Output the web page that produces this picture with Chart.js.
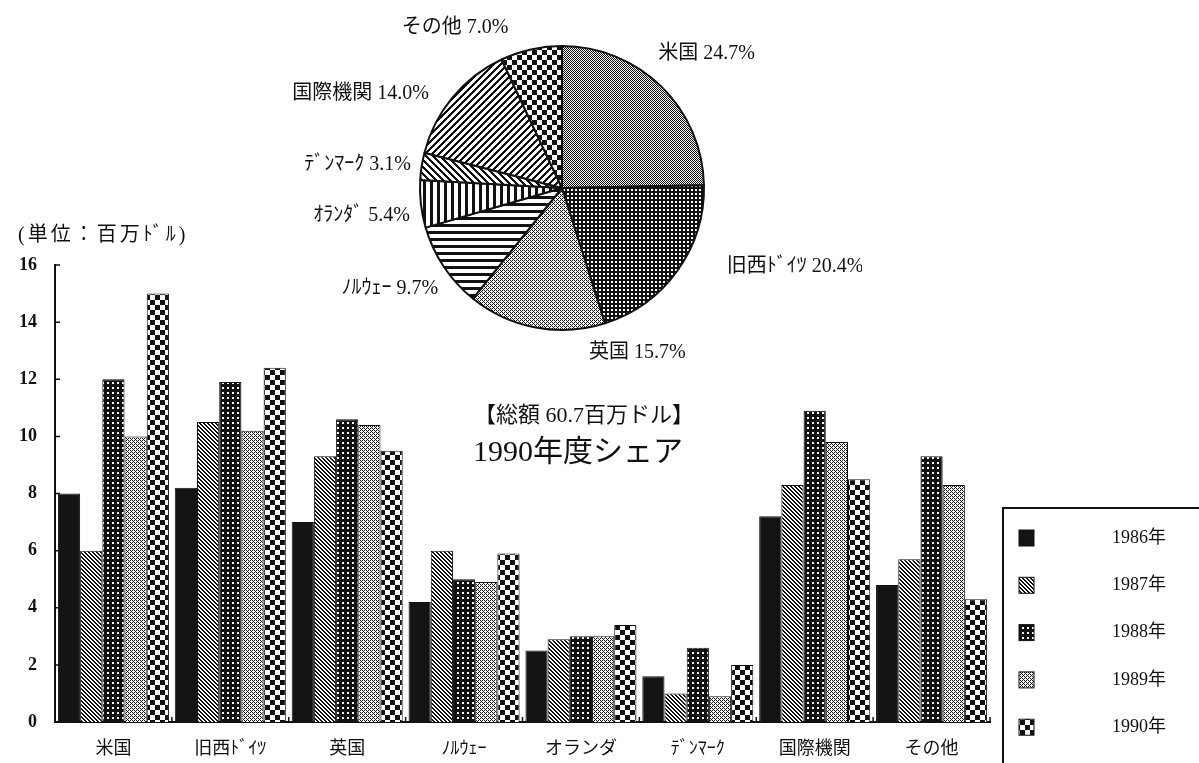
<!DOCTYPE html>
<html>
<head>
<meta charset="utf-8">
<script src="https://cdn.jsdelivr.net/npm/chart.js@4.4.1/dist/chart.umd.min.js"></script>
<style>
  html, body { margin: 0; padding: 0; background: #fff; }
  #wrap { position: relative; width: 1199px; height: 763px; overflow: hidden; }
  #barChart { position: absolute; left: 0; top: 0; }
  #pieChart { position: absolute; left: 262px; top: 0; }
  .note { position: absolute; font-family: 'Liberation Serif', 'Noto Sans CJK JP', serif; color: #111; white-space: nowrap; }
</style>
</head>
<body>
<div id="wrap">
  <canvas id="barChart" width="1199" height="763"></canvas>
  <canvas id="pieChart" width="600" height="380"></canvas>
  <div class="note" style="left:18px; top:218px; font-size:20px; letter-spacing:3px;">(単位：百万ﾄﾞﾙ)</div>
  <div class="note" style="left:474px; top:396px; font-size:22px;">【総額 60.7百万ドル】</div>
  <div class="note" style="left:473px; top:426px; font-size:30px;">1990年度シェア</div>
</div>
<script>
// 棒グラフのデータ (単位: 百万ドル)
const categories = ['米国', '旧西ﾄﾞｲﾂ', '英国', 'ﾉﾙｳｪｰ', 'オランダ', 'ﾃﾞﾝﾏｰｸ', '国際機関', 'その他'];
const years = ['1986年', '1987年', '1988年', '1989年', '1990年'];
const values1986 = [8.0, 8.2, 7.0, 4.2, 2.5, 1.6, 7.2, 4.8];
const values1987 = [6.0, 10.5, 9.3, 6.0, 2.9, 1.0, 8.3, 5.7];
const values1988 = [12.0, 11.9, 10.6, 5.0, 3.0, 2.6, 10.9, 9.3];
const values1989 = [10.0, 10.2, 10.4, 4.9, 3.0, 0.9, 9.8, 8.3];
const values1990 = [15.0, 12.4, 9.5, 5.9, 3.4, 2.0, 8.5, 4.3];

// 円グラフ (1990年度シェア, %)
const pieLabels = ['米国', '旧西ﾄﾞｲﾂ', '英国', 'ﾉﾙｳｪｰ', 'ｵﾗﾝﾀﾞ', 'ﾃﾞﾝﾏｰｸ', '国際機関', 'その他'];
const pieShares = [24.7, 20.4, 15.7, 9.7, 5.4, 3.1, 14.0, 7.0];

const FONT = "'Liberation Serif', 'Noto Sans CJK JP', serif";

// --- pattern helpers ---
function makePattern(size, fn) {
    const c = document.createElement('canvas');
    c.width = size; c.height = size;
    const g = c.getContext('2d');
    g.fillStyle = '#fff';
    g.fillRect(0, 0, size, size);
    g.fillStyle = '#111';
    for (let x = 0; x < size; x++) {
        for (let y = 0; y < size; y++) {
            if (fn(x, y)) g.fillRect(x, y, 1, 1);
        }
    }
    return g.createPattern(c, 'repeat');
}

// light stipple, roughly 40% ink
const stipple = (x, y) => (y % 2 === 0 && x % 2 === 0) || (y % 4 === 1 && x === 1) || (y % 4 === 3 && x === 3);

const barPatterns = [
    '#141414',
    makePattern(4, (x, y) => ((x - y + 8) % 4) < 2),               // dense hatch
    makePattern(5, (x, y) => !(x >= 2 && x < 4 && y >= 2 && y < 4)),  // black w/ white dots
    makePattern(4, stipple),                                         // light stipple
    makePattern(10, (x, y) => ((x < 5) === (y < 5)))               // checkerboard
];

const piePatterns = [
    makePattern(2, (x, y) => (x + y) % 2 === 0),                    // 米国: fine checker
    makePattern(4, (x, y) => !(x >= 1 && x < 3 && y >= 1 && y < 3)), // 旧西ドイツ: dark dots
    makePattern(4, stipple),                                         // 英国: light
    makePattern(7, (x, y) => y < 3),                                 // ノルウェー: horizontal
    makePattern(7, (x, y) => x < 3),                                 // オランダ: vertical
    makePattern(7, (x, y) => ((x - y + 14) % 7) < 3),               // デンマーク: \\
    makePattern(7, (x, y) => ((x + y) % 7) < 3),                    // 国際機関: //
    makePattern(10, (x, y) => ((x < 5) === (y < 5)))                // その他: checker
];

// small inward ticks on both axes
const axisTicks = {
    id: 'axisTicks',
    afterDraw(chart) {
        const { ctx, chartArea: a, scales } = chart;
        ctx.save();
        ctx.strokeStyle = '#111';
        ctx.lineWidth = 1.5;
        ctx.beginPath();
        scales.y.ticks.forEach(t => {
            const y = scales.y.getPixelForValue(t.value);
            ctx.moveTo(a.left, y); ctx.lineTo(a.left + 5, y);
        });
        const step = (a.right - a.left) / categories.length;
        for (let i = 1; i <= categories.length; i++) {
            const x = a.left + i * step;
            ctx.moveTo(x, a.bottom); ctx.lineTo(x, a.bottom - 5);
        }
        ctx.stroke();
        ctx.restore();
    }
};

// boxed legend at lower right
const boxLegend = {
    id: 'boxLegend',
    afterDraw(chart) {
        const ctx = chart.ctx;
        ctx.save();
        ctx.strokeStyle = '#111';
        ctx.lineWidth = 2;
        ctx.strokeRect(1003, 508, 260, 300);
        ctx.font = '18px ' + FONT;
        ctx.textBaseline = 'middle';
        chart.data.datasets.forEach((ds, i) => {
            const y = 538 + i * 47.3;
            ctx.fillStyle = ds.backgroundColor;
            ctx.fillRect(1019, y - 8, 15, 16);
            ctx.strokeStyle = '#111';
            ctx.lineWidth = 1;
            ctx.strokeRect(1019, y - 8, 15, 16);
            ctx.fillStyle = '#111';
            ctx.fillText(ds.label, 1112, y);
        });
        ctx.restore();
    }
};

new Chart(document.getElementById('barChart'), {
    type: 'bar',
    data: {
        labels: categories,
        datasets: [values1986, values1987, values1988, values1989, values1990].map((vals, i) => ({
            label: years[i],
            data: vals,
            backgroundColor: barPatterns[i],
            borderColor: '#111',
            borderWidth: 1,
            categoryPercentage: 0.95,
            barPercentage: 1.0
        }))
    },
    options: {
        responsive: false,
        animation: false,
        events: [],
        layout: { padding: { left: 0, right: 209, top: 265, bottom: 0 } },
        plugins: { legend: { display: false }, tooltip: { enabled: false } },
        scales: {
            y: {
                min: 0, max: 16,
                afterFit: s => { s.width = 55; },
                ticks: { stepSize: 2, padding: 18, color: '#111', font: { family: FONT, size: 18, weight: 'bold' } },
                grid: { display: false, drawTicks: false },
                border: { display: true, color: '#111', width: 2 }
            },
            x: {
                afterFit: s => { s.height = 41; },
                ticks: { padding: 16, color: '#111', font: { family: FONT, size: 18 } },
                grid: { display: false, drawTicks: false },
                border: { display: true, color: '#111', width: 2 }
            }
        }
    },
    plugins: [axisTicks, boxLegend]
});

// pie labels placed outside each slice
const pieLabelPlugin = {
    id: 'pieLabelPlugin',
    afterDraw(chart, args, opts) {
        const ctx = chart.ctx;
        const meta = chart.getDatasetMeta(0);
        ctx.save();
        ctx.font = '20px ' + FONT;
        ctx.fillStyle = '#111';
        ctx.textBaseline = 'middle';
        meta.data.forEach((arc, i) => {
            const mid = (arc.startAngle + arc.endAngle) / 2;
            const R = arc.outerRadius + 14;
            const s = Math.cos(mid);
            let x = arc.x + R * Math.cos(mid);
            let y = arc.y + R * Math.sin(mid);
            ctx.textAlign = Math.abs(s) < 0.3 ? 'center' : (s > 0 ? 'left' : 'right');
            const n = opts.nudge[i] || [0, 0];
            x += n[0]; y += n[1];
            ctx.fillText(pieLabels[i] + ' ' + pieShares[i].toFixed(1) + '%', x, y);
        });
        ctx.restore();
    }
};

new Chart(document.getElementById('pieChart'), {
    type: 'pie',
    data: {
        labels: pieLabels,
        datasets: [{
            data: pieShares,
            backgroundColor: piePatterns,
            borderColor: '#111',
            borderWidth: 2
        }]
    },
    options: {
        responsive: false,
        animation: false,
        events: [],
        layout: { padding: { left: 157, right: 157, top: 45, bottom: 49 } },
        plugins: {
            legend: { display: false },
            tooltip: { enabled: false },
            pieLabelPlugin: {
                nudge: [[-13, -23], [38, -12], [104, 11], [6, 14], [3, 10], [3, 1], [-13, 5], [-73, -8]]
            }
        }
    },
    plugins: [pieLabelPlugin]
});
</script>
</body>
</html>
